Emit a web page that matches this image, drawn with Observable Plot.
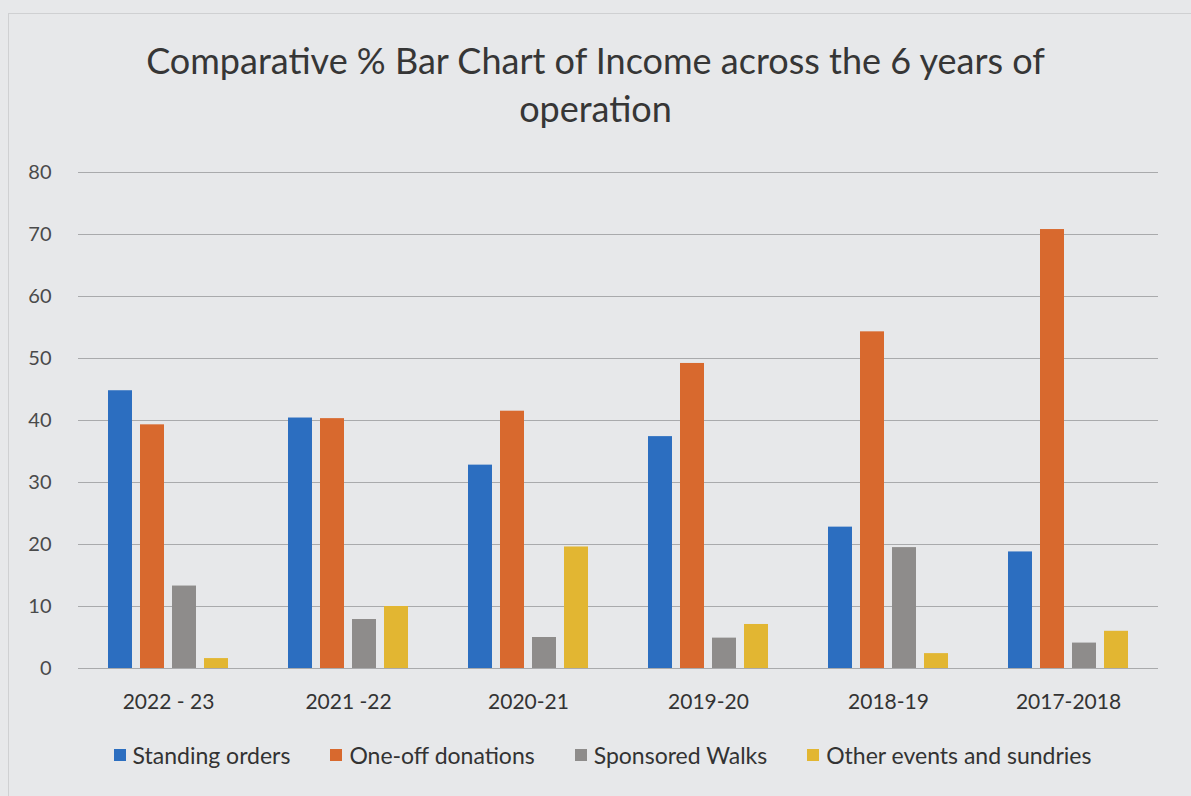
<!DOCTYPE html>
<html>
<head>
<meta charset="utf-8">
<script src="https://cdn.jsdelivr.net/npm/d3@7"></script>
<script src="https://cdn.jsdelivr.net/npm/@observablehq/plot@0.6"></script>
<style>
  html, body { margin: 0; padding: 0; background: #e7e8ea; }
  body { width: 1191px; height: 796px; overflow: hidden; position: relative; font-family: Lato, "Open Sans", sans-serif; }
  #frame { position: absolute; left: 8px; top: 13px; width: 1200px; height: 800px; border-left: 1px solid #cfd0d2; border-top: 1px solid #cfd0d2; pointer-events: none; }
  #title { position: absolute; left: 0; top: 36px; width: 1191px; text-align: center; font-size: 36px; line-height: 48px; color: #363636; }
  #chart { position: absolute; left: 0; top: 140px; }
  #legend { position: absolute; left: 0; top: 741px; width: 1191px; display: flex; justify-content: center; gap: 40px; font-size: 23px; color: #333; padding-left: 14px; box-sizing: border-box; }
  #legend .item { display: flex; align-items: center; gap: 7px; }
  #legend .sw { width: 12px; height: 12px; display: inline-block; }
  svg text { font-family: Lato, "Open Sans", sans-serif; }
</style>
</head>
<body>
<div id="frame"></div>
<div id="title">Comparative % Bar Chart of Income across the 6 years of<br>operation</div>
<div id="chart"></div>
<div id="legend"></div>
<script>
const years = ["2022 - 23", "2021 -22", "2020-21", "2019-20", "2018-19", "2017-2018"];
const seriesNames = ["Standing orders", "One-off donations", "Sponsored Walks", "Other events and sundries"];
const standingOrders = [44.8, 40.4, 32.8, 37.4, 22.8, 18.8];
const oneOffDonations = [39.3, 40.3, 41.5, 49.2, 54.3, 70.8];
const sponsoredWalks = [13.3, 7.9, 5.0, 4.9, 19.5, 4.1];
const otherEvents = [1.6, 10.0, 19.6, 7.1, 2.4, 6.0];
const yTicks = [0, 10, 20, 30, 40, 50, 60, 70, 80];
const colors = ["#2c6ec0", "#d8692e", "#8e8c8b", "#e2b632"];

const seriesValues = [standingOrders, oneOffDonations, sponsoredWalks, otherEvents];
const data = [];
years.forEach((y, i) => {
  seriesNames.forEach((s, j) => {
    data.push({year: y, series: s, value: seriesValues[j][i]});
  });
});

const chart = Plot.plot({
  width: 1191,
  height: 578,
  marginLeft: 76,
  marginRight: 32,
  marginTop: 32,
  marginBottom: 50,
  style: {background: "transparent", fontSize: "20px", color: "#4a4a4a"},
  fx: {domain: years, padding: 0, label: null, axis: "bottom", tickSize: 0, tickPadding: 26},
  x: {domain: seriesNames, paddingInner: 0.2424, paddingOuter: 0.856, axis: null},
  y: {domain: [0, 80], ticks: yTicks, tickSize: 0, tickPadding: 27, label: null},
  color: {domain: seriesNames, range: colors},
  marks: [
    Plot.ruleY(yTicks, {stroke: "#a9aaac", strokeWidth: 1}),
    Plot.barY(data, {fx: "year", x: "series", y: "value", fill: "series", inset: 0})
  ]
});
chart.querySelectorAll('g[aria-label="fx-axis tick label"] text').forEach(t => { t.style.fontSize = "21px"; t.setAttribute("fill", "#333"); });
document.getElementById("chart").appendChild(chart);

const legend = document.getElementById("legend");
seriesNames.forEach((s, i) => {
  const it = document.createElement("div");
  it.className = "item";
  const sw = document.createElement("span");
  sw.className = "sw";
  sw.style.background = colors[i];
  const tx = document.createElement("span");
  tx.textContent = s;
  it.appendChild(sw);
  it.appendChild(tx);
  legend.appendChild(it);
});
</script>
</body>
</html>
